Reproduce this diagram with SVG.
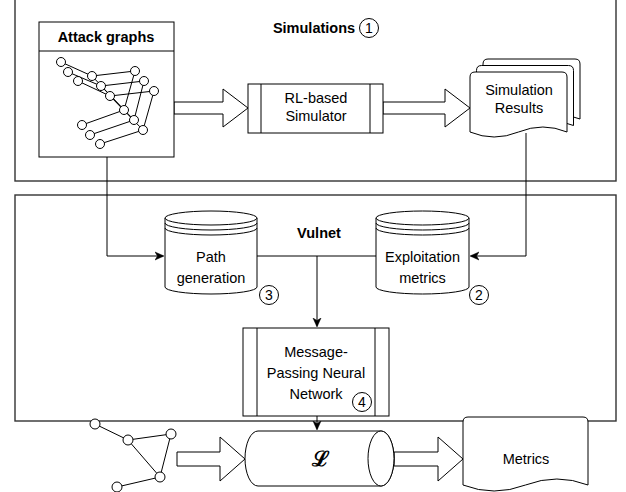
<svg xmlns="http://www.w3.org/2000/svg" width="626" height="492" viewBox="0 0 626 492">
<style>
.frame{fill:none;stroke:#333;stroke-width:1.4}
.box{fill:#fff;stroke:#000;stroke-width:1}
.ln{fill:none;stroke:#000;stroke-width:1}
.nd{fill:#fff;stroke:#000;stroke-width:1}
.t{font-family:"Liberation Sans",Arial,sans-serif;font-size:14.5px;fill:#000;text-anchor:middle}
.b{font-weight:bold}
.num{font-family:"Liberation Sans",Arial,sans-serif;font-size:14px;fill:#000;text-anchor:middle}
.circ{fill:none;stroke:#000;stroke-width:1}
</style>
<defs>
<marker id="ah" markerWidth="10" markerHeight="10" refX="8" refY="5" orient="auto" markerUnits="userSpaceOnUse">
<path d="M0,1 L9,5 L0,9 L2.5,5 Z" fill="#000" stroke="#000" stroke-width="0.5"/>
</marker>
</defs>

<g id="frame-simulations">
<rect class="frame" x="15" y="-3" width="601" height="184"/>
<text class="t b" x="314" y="33">Simulations</text>
<circle class="circ" cx="369" cy="28" r="9.5"/>
<text class="num" x="369" y="33">1</text>
</g>

<g id="frame-vulnet">
<rect class="frame" x="15" y="195" width="601" height="226"/>
<text class="t b" x="319" y="238">Vulnet</text>
</g>

<g id="connectors">
<path class="ln" d="M107,157 V256 H163" marker-end="url(#ah)"/>
<path class="ln" d="M526,133 V256 H471" marker-end="url(#ah)"/>
<path class="ln" d="M257,256 H376"/>
<path class="ln" d="M317,256 V326" marker-end="url(#ah)"/>
<path class="ln" d="M317,416 V429" marker-end="url(#ah)"/>
<path class="box" d="M174,102 H223 V89 L248,108 L223,127 V114 H174 Z"/>
<path class="box" d="M383,102 H445 V89 L470,108 L445,127 V114 H383 Z"/>
<path class="box" d="M177,452 H220 V437 L245,459 L220,481 V466 H177 Z"/>
<path class="box" d="M394,452 H438 V437 L463,459 L438,481 V466 H394 Z"/>
</g>

<g id="attack-graphs">
<rect class="box" x="39" y="22" width="135" height="135"/>
<line class="ln" x1="39" y1="51" x2="174" y2="51"/>
<text class="t b" x="106" y="42">Attack graphs</text>
<g class="ln">
<path d="M61,62 L92,76 L135,71 L124,110 L82,125 M92,76 L124,110"/>
<path d="M68,72 L101,86 L144,81 L134,120 L90,135 M101,86 L134,120"/>
<path d="M78,81 L110,96 L154,91 L143,130 L100,144 M110,96 L143,130"/>
</g>
<g class="nd">
<circle cx="61" cy="62" r="4.5"/><circle cx="92" cy="76" r="4.5"/><circle cx="135" cy="71" r="4.5"/><circle cx="124" cy="110" r="4.5"/><circle cx="82" cy="125" r="4.5"/>
<circle cx="68" cy="72" r="4.5"/><circle cx="101" cy="86" r="4.5"/><circle cx="144" cy="81" r="4.5"/><circle cx="134" cy="120" r="4.5"/><circle cx="90" cy="135" r="4.5"/>
<circle cx="78" cy="81" r="4.5"/><circle cx="110" cy="96" r="4.5"/><circle cx="154" cy="91" r="4.5"/><circle cx="143" cy="130" r="4.5"/><circle cx="100" cy="144" r="4.5"/>
</g>
</g>

<g id="rl-simulator">
<rect class="box" x="248" y="84" width="135" height="49"/>
<line class="ln" x1="261" y1="84" x2="261" y2="133"/>
<line class="ln" x1="370" y1="84" x2="370" y2="133"/>
<text class="t" x="316" y="103">RL-based</text>
<text class="t" x="316" y="121">Simulator</text>
</g>

<g id="simulation-results">
<path class="box" d="M483,119 V64 Q483,59 488,59 H575 Q580,59 580,64 V119 Q555,109 531.5,119 Q507,129 483,119 Z"/>
<path class="box" d="M476.5,125.5 V70.5 Q476.5,65.5 481.5,65.5 H568.5 Q573.5,65.5 573.5,70.5 V125.5 Q549,115.5 525,125.5 Q501,135.5 476.5,125.5 Z"/>
<path class="box" d="M470,132 V77 Q470,72 475,72 H562 Q567,72 567,77 V132 Q543,122 518.5,132 Q494,142 470,132 Z"/>
<text class="t" x="519" y="95">Simulation</text>
<text class="t" x="519" y="113">Results</text>
</g>

<g id="path-generation">
<path class="box" d="M165,218 V287 A46,7 0 0 0 257,287 V218"/>
<ellipse class="box" cx="211" cy="218" rx="46" ry="7"/>
<path class="ln" d="M165,223 A46,7 0 0 0 257,223 M165,228 A46,7 0 0 0 257,228"/>
<text class="t" x="211" y="262">Path</text>
<text class="t" x="211" y="283">generation</text>
<circle class="circ" cx="269" cy="295" r="9.5"/>
<text class="num" x="269" y="300">3</text>
</g>

<g id="exploitation-metrics">
<path class="box" d="M376,218 V287 A46.5,7 0 0 0 469,287 V218"/>
<ellipse class="box" cx="422.5" cy="218" rx="46.5" ry="7"/>
<path class="ln" d="M376,223 A46.5,7 0 0 0 469,223 M376,228 A46.5,7 0 0 0 469,228"/>
<text class="t" x="422.5" y="262">Exploitation</text>
<text class="t" x="422.5" y="283">metrics</text>
<circle class="circ" cx="479" cy="295" r="9.5"/>
<text class="num" x="479" y="300">2</text>
</g>

<g id="mpnn">
<rect class="box" x="243" y="328" width="146" height="88"/>
<line class="ln" x1="257" y1="328" x2="257" y2="416"/>
<line class="ln" x1="375" y1="328" x2="375" y2="416"/>
<text class="t" x="316" y="357">Message-</text>
<text class="t" x="316" y="378">Passing Neural</text>
<text class="t" x="316" y="399">Network</text>
<circle class="circ" cx="362" cy="402" r="9.5"/>
<text class="num" x="362" y="407">4</text>
</g>

<g id="small-graph">
<path class="ln" d="M95,424 L128,440 L171,434 L160,477 L117,487 M128,440 L160,477"/>
<g class="nd">
<circle cx="95" cy="424" r="5"/><circle cx="128" cy="440" r="5"/><circle cx="171" cy="434" r="5"/><circle cx="160" cy="477" r="5"/><circle cx="117" cy="487" r="5"/>
</g>
</g>

<g id="loss">
<path class="box" d="M258,431 H381 A13,27.5 0 0 1 381,486 H258 A13,27.5 0 0 1 258,431 Z"/>
<ellipse class="box" cx="381" cy="458.5" rx="13" ry="27.5"/>
<text x="321" y="466" style="font-family:'DejaVu Serif',serif;font-size:21px;font-weight:bold;text-anchor:middle">ℒ</text>
</g>

<g id="metrics">
<path class="box" d="M463,485 V422 Q463,417 468,417 H583 Q588,417 588,422 V485 Q557,473 525.5,485 Q494,497 463,485 Z"/>
<text class="t" x="526" y="464">Metrics</text>
</g>
</svg>
